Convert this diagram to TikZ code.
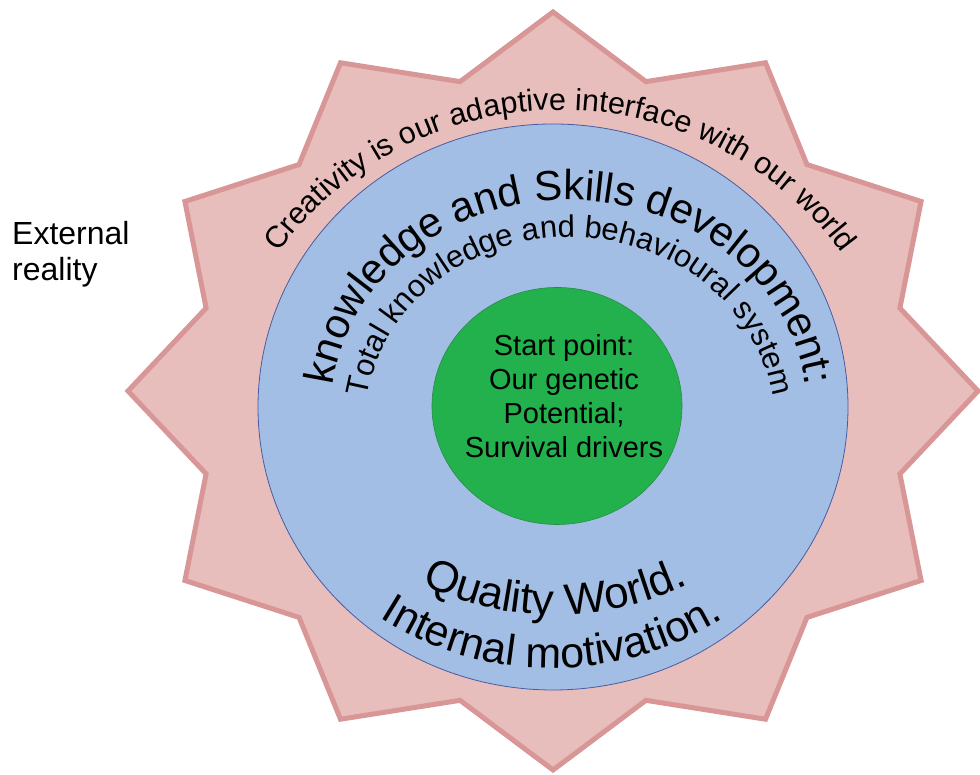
\documentclass[tikz,border=0pt]{standalone}
\usepackage{fontspec}
\setmainfont{Liberation Sans}
\usetikzlibrary{shapes.geometric,decorations.text,positioning,calc}
\definecolor{starpink}{RGB}{232,190,188}
\definecolor{starrim}{RGB}{216,150,150}
\definecolor{qwblue}{RGB}{163,190,228}
\definecolor{qwrim}{RGB}{72,92,160}
\definecolor{spgreen}{RGB}{34,177,76}
\definecolor{sprim}{RGB}{40,140,70}

\begin{document}
\begin{tikzpicture}[x=1pt,y=1pt,
    outerstar/.style={fill=starpink, draw=starrim, line width=5pt, line join=miter},
    quality/.style={ellipse, draw=qwrim, fill=qwblue, line width=0.8pt, inner sep=0pt},
    startpt/.style={ellipse, draw=sprim, fill=spgreen, line width=0.6pt, inner sep=0pt},
    arctext/.style={decorate, decoration={text along path, text align=center}}
]
\useasboundingbox (0,0) rectangle (980,775);

% twelve pointed star
\draw[outerstar] plot[samples at={0,...,23}]
    ({553+425*(1-0.155*mod(\x,2))*cos(90+15*\x)}, {384+379*(1-0.155*mod(\x,2))*sin(90+15*\x)}) -- cycle;

\node[quality, minimum width=590, minimum height=566] (qw) at (553,368) {};
\node[startpt, minimum width=250, minimum height=237] (sp) at (557,369) {};
\node[align=center, font=\fontsize{29}{34}\selectfont] (sptxt) at ([xshift=7,yshift=10]sp.center)
    {Start point:\\Our genetic\\Potential;\\Survival drivers};

\node[align=left, anchor=west, inner sep=0pt, font=\fontsize{32}{36}\selectfont] (ext) at (12,521) {External\\reality};

% curved labels
\coordinate (cc) at (560,316);
\coordinate (kc) at (569,365);
\coordinate (tc) at (570,350);
\coordinate (qc) at (555,460);
\coordinate (ic) at (552,427);

\path[arctext, decoration={text={|\fontsize{30.5}{30}\selectfont|Creativity is our adaptive interface with our world}}]
    ([shift={(150:349)}]cc) arc[start angle=150, end angle=30, radius=349];
\path[arctext, decoration={text={|\fontsize{42}{42}\selectfont|knowledge and Skills development:}}]
    ([shift={(182:238 and 210)}]kc) arc[start angle=182, end angle=-2, x radius=238, y radius=210];
\path[arctext, decoration={text={|\fontsize{31}{31}\selectfont|Total knowledge and behavioural system}}]
    ([shift={(184:205 and 188)}]tc) arc[start angle=184, end angle=-4, x radius=205, y radius=188];
\path[arctext, decoration={text={|\fontsize{44}{44}\selectfont|Quality World.}}]
    ([shift={(230:300)}]qc) arc[start angle=230, end angle=310, radius=300];
\path[arctext, decoration={text={|\fontsize{43}{43}\selectfont|Internal motivation.}}]
    ([shift={(221:320)}]ic) arc[start angle=221, end angle=319, radius=320];

\end{tikzpicture}
\end{document}
